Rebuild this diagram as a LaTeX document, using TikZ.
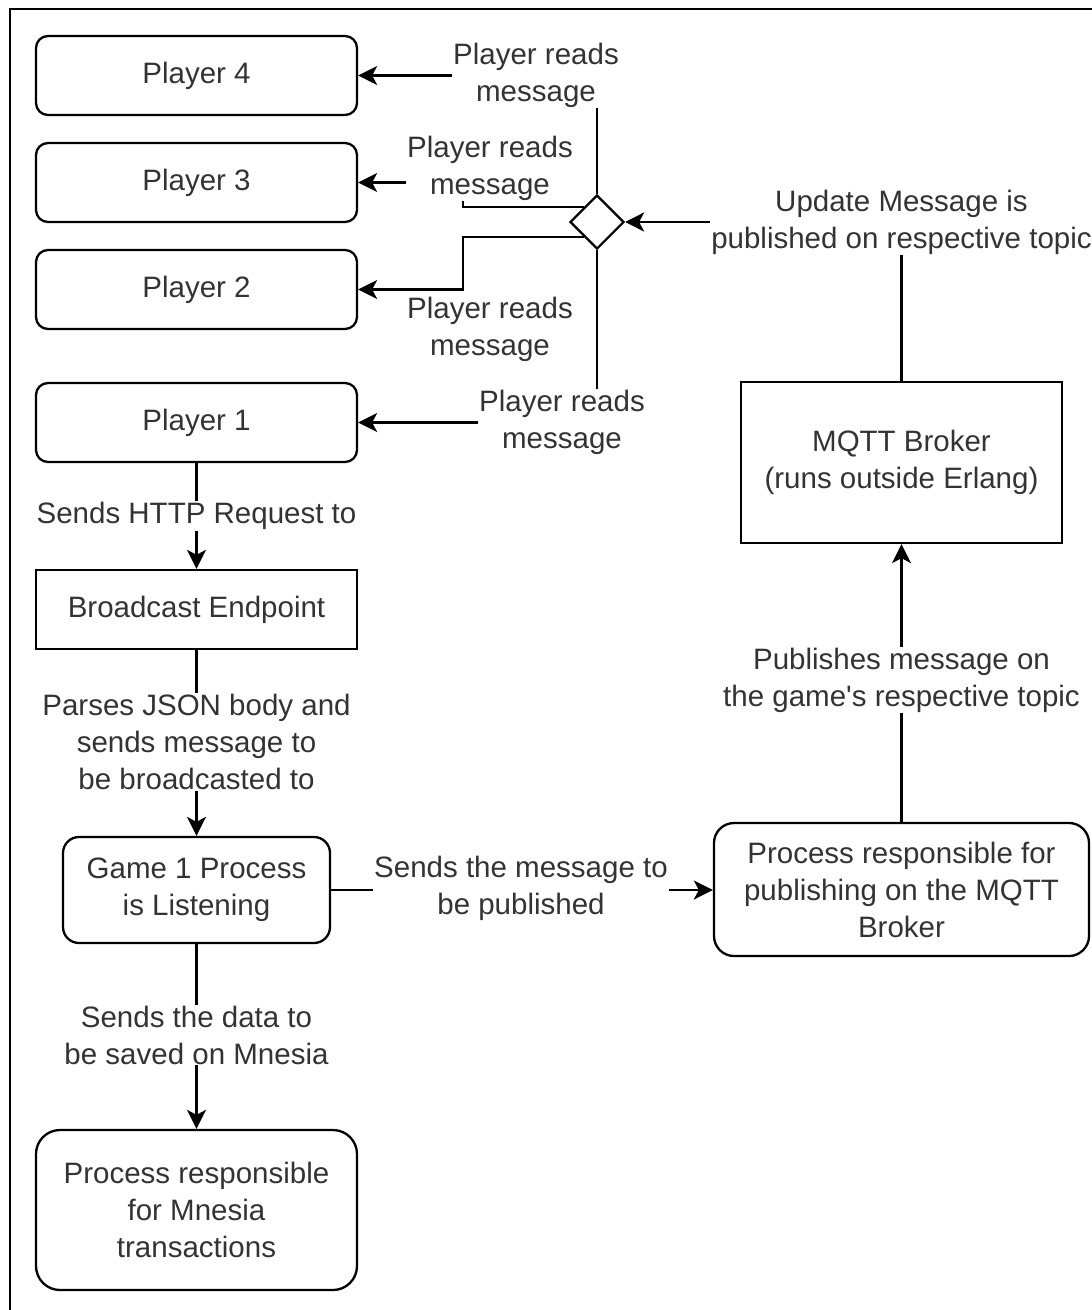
\documentclass[tikz,border=0pt]{standalone}
\usepackage{fontspec}
\setmainfont{Liberation Sans}[Ligatures=TeXOff]
\usetikzlibrary{arrows.meta,shapes.geometric,calc}

\tikzset{
  txt/.style={font=\fontsize{29.5}{37}\selectfont, text=black!80, align=center},
  box/.style={txt, draw, line width=2.3pt, inner sep=0pt,
              minimum width=321pt, minimum height=79pt},
  rbox/.style={box, rounded corners=#1},
  rbox/.default=12pt,
  lbl/.style={txt, fill=white, inner sep=1pt},
  conn/.style={line width=2.2pt, -{Stealth[length=19pt,width=19pt,inset=5pt]}},
}

\begin{document}
\begin{tikzpicture}[x=1pt,y=-1pt]
\useasboundingbox (0,0) rectangle (1092,1310);

% frame
\draw[line width=2.5pt] (10,1310) -- (10,9) -- (1092,9);

% players
\node[rbox] (p4) at (196.5,75.5)  {Player 4};
\node[rbox] (p3) at (196.5,182.5) {Player 3};
\node[rbox] (p2) at (196.5,289.5) {Player 2};
\node[rbox] (p1) at (196.5,422.5) {Player 1};

% left column
\node[box] (be) at (196.5,609.5) {Broadcast Endpoint};
\node[rbox=16pt, minimum width=267pt, minimum height=106pt] (game) at (196.5,890)
  {Game 1 Process\\is Listening};
\node[rbox=24pt, minimum height=160pt] (mnesia) at (196.5,1210)
  {Process responsible\\for Mnesia\\transactions};

% right column
\node[box, minimum height=161pt] (mqtt) at (901.5,462.5)
  {MQTT Broker\\(runs outside Erlang)};
\node[rbox=20pt, minimum width=375pt, minimum height=133pt] (pub) at (901.5,889.5)
  {Process responsible for\\publishing on the MQTT\\Broker};

% fan-out diamond
\node[diamond, draw, line width=2.2pt, minimum width=54pt, minimum height=54pt,
      inner sep=0pt, fill=white] (d) at (597,222) {};

% waypoints
\coordinate (d3) at ($(d.west)!0.52!(d.north)$);
\coordinate (d2) at ($(d.west)!0.52!(d.south)$);
\coordinate (k3) at (463,0 |- d3);
\coordinate (k2) at (463,0 |- d2);

% connectors
\draw[conn] (p1) -- (be);
\draw[conn] (be) -- (game);
\draw[conn] (game) -- (mnesia);
\draw[conn] (game.east) -- (game.east -| pub.west);
\draw[conn] (pub) -- (mqtt);
\draw[conn] (mqtt.north) |- (d.east);
\draw[conn] (d.north) |- (p4.east);
\draw[conn] (d.south) |- (p1.east);
\draw[conn] (d3) -- (k3) |- (p3.east);
\draw[conn] (d2) -- (k2) |- (p2.east);

% labels
\node[lbl] (lhttp) at (196.5,516) {Sends HTTP Request to};
\node[lbl] (ljson) at (196.5,742) {Parses JSON body and\\sends message to\\be broadcasted to};
\node[lbl] (lsave) at (196.5,1035) {Sends the data to\\be saved on Mnesia};
\node[lbl] (lsend) at (521,888) {Sends the message to\\be published};
\node[lbl] (lpubl) at (901.5,680) {Publishes message on\\the game's respective topic};
\node[lbl] (lupd) at (901.5,222) {Update Message is\\published on respective topic};
\node[lbl] (l4) at (536,75)  {Player reads\\message};
\node[lbl] (l3) at (490,168) {Player reads\\message};
\node[lbl] (l2) at (490,329) {Player reads\\message};
\node[lbl] (l1) at (562,422) {Player reads\\message};
\end{tikzpicture}
\end{document}
